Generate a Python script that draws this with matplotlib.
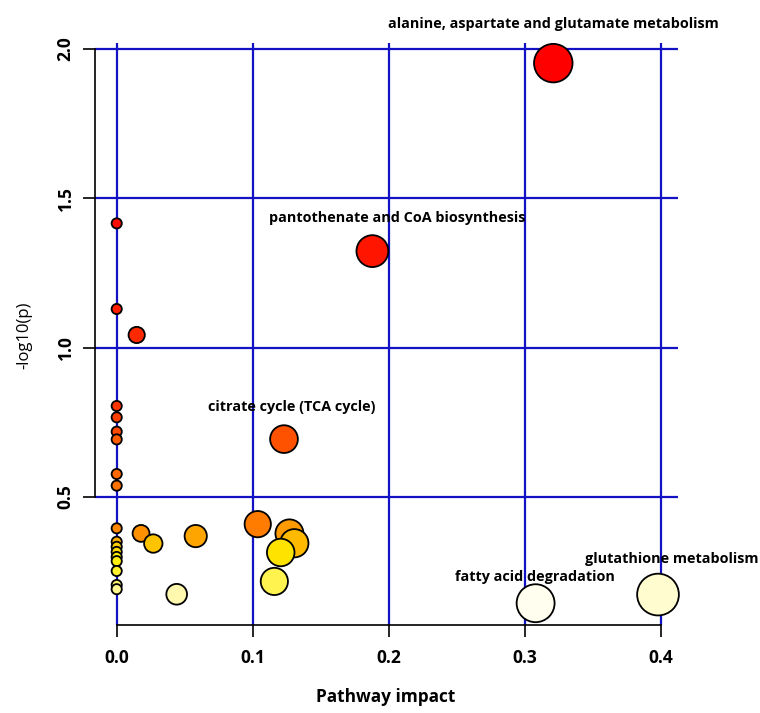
import numpy as np
import matplotlib
matplotlib.use("Agg")
import matplotlib.pyplot as plt
from matplotlib.colors import hsv_to_rgb

plt.rcParams["font.family"] = ["Open Sans", "DejaVu Sans"]

# pathways sitting at impact 0.0
zero_logp = [1.416, 1.129, 0.804, 0.766, 0.718, 0.692, 0.576, 0.537,
             0.394, 0.349, 0.332, 0.315, 0.298, 0.284, 0.251, 0.204, 0.190]

# pathways with non-zero impact
impact = [0.321, 0.188, 0.123, 0.0147, 0.0179, 0.0269, 0.0581, 0.0441,
          0.1037, 0.127, 0.1306, 0.1206, 0.1159, 0.308, 0.398]
logp = [1.953, 1.323, 0.693, 1.042, 0.377, 0.343, 0.368, 0.173,
        0.408, 0.377, 0.344, 0.313, 0.216, 0.143, 0.172]

# labelled pathways: text, x, y of label
label_text = ["alanine, aspartate and glutamate metabolism",
              "pantothenate and CoA biosynthesis",
              "citrate cycle (TCA cycle)",
              "fatty acid degradation",
              "glutathione metabolism"]
label_x = [0.3208, 0.2061, 0.129, 0.3076, 0.408]
label_y = [2.084, 1.433, 0.802, 0.231, 0.291]

x = np.array([0.0] * len(zero_logp) + impact)
y = np.array(zero_logp + logp)


def heat_colors(n, end=0.155):
    # like R's heat.colors(): red -> yellow, then fading to white
    j = n // 4
    i = n - j
    cols = [hsv_to_rgb((h, 1, 1)) for h in np.linspace(0, end, i)]
    if j > 0:
        for s in np.linspace(1 - 1 / (2 * j), 1 / (2 * j), j):
            cols.append(hsv_to_rgb((end, s, 1)))
    return cols


# draw most significant first, so smaller p end up on top
order = np.argsort(-y, kind="stable")
x, y = x[order], y[order]
colors = heat_colors(len(y))

radius_px = 6 + 25 * np.sqrt(x)
edge_lw = 1.3
sizes = (radius_px * 2 * 0.72 - edge_lw) ** 2

fig = plt.figure(figsize=(7.6, 7.13), dpi=100)
ax = fig.add_axes([95 / 760, 88 / 713, 583 / 760, 582.3 / 713])

ax.set_xlim(-0.01596, 0.4127)
ax.set_ylim(0.070, 2.0215)

grid_col = "#1212C4"
for gx in [0.0, 0.1, 0.2, 0.3, 0.4]:
    ax.axvline(gx, color=grid_col, lw=1.6, zorder=1)
for gy in [0.5, 1.0, 1.5, 2.0]:
    ax.axhline(gy, color=grid_col, lw=1.6, zorder=1)

ax.scatter(x, y, s=sizes, c=colors, edgecolors="black", linewidths=edge_lw,
           zorder=3, clip_on=False)

for t, lx, ly in zip(label_text, label_x, label_y):
    ax.text(lx, ly, t, ha="center", va="center", fontsize=10.4,
            fontweight="bold", zorder=4, clip_on=False)

for side in ["top", "right"]:
    ax.spines[side].set_visible(False)
ax.spines["left"].set_bounds(0.5, 2.0)
ax.spines["bottom"].set_bounds(0.0, 0.4)
for side in ["left", "bottom"]:
    ax.spines[side].set_linewidth(1.2)

ax.set_xticks([0.0, 0.1, 0.2, 0.3, 0.4])
ax.set_xticklabels(["0.0", "0.1", "0.2", "0.3", "0.4"])
ax.set_yticks([0.5, 1.0, 1.5, 2.0])
ax.set_yticklabels(["0.5", "1.0", "1.5", "2.0"], rotation=90, va="center")
ax.tick_params(axis="both", direction="out", length=8.6, width=1.2,
               labelsize=12.5)
ax.tick_params(axis="x", pad=9)
ax.tick_params(axis="y", pad=6)
for lab in ax.get_xticklabels() + ax.get_yticklabels():
    lab.set_fontweight("bold")

ax.set_xlabel("Pathway impact", fontsize=12.4, fontweight="bold")
ax.xaxis.label.set_va("center")
ax.xaxis.set_label_coords(0.498, -0.1236)
ax.set_ylabel("-log10(p)", fontsize=12)
ax.yaxis.label.set_va("center")
ax.yaxis.set_label_coords(-0.1218, 0.498)

fig.savefig("out.png", dpi=100)
